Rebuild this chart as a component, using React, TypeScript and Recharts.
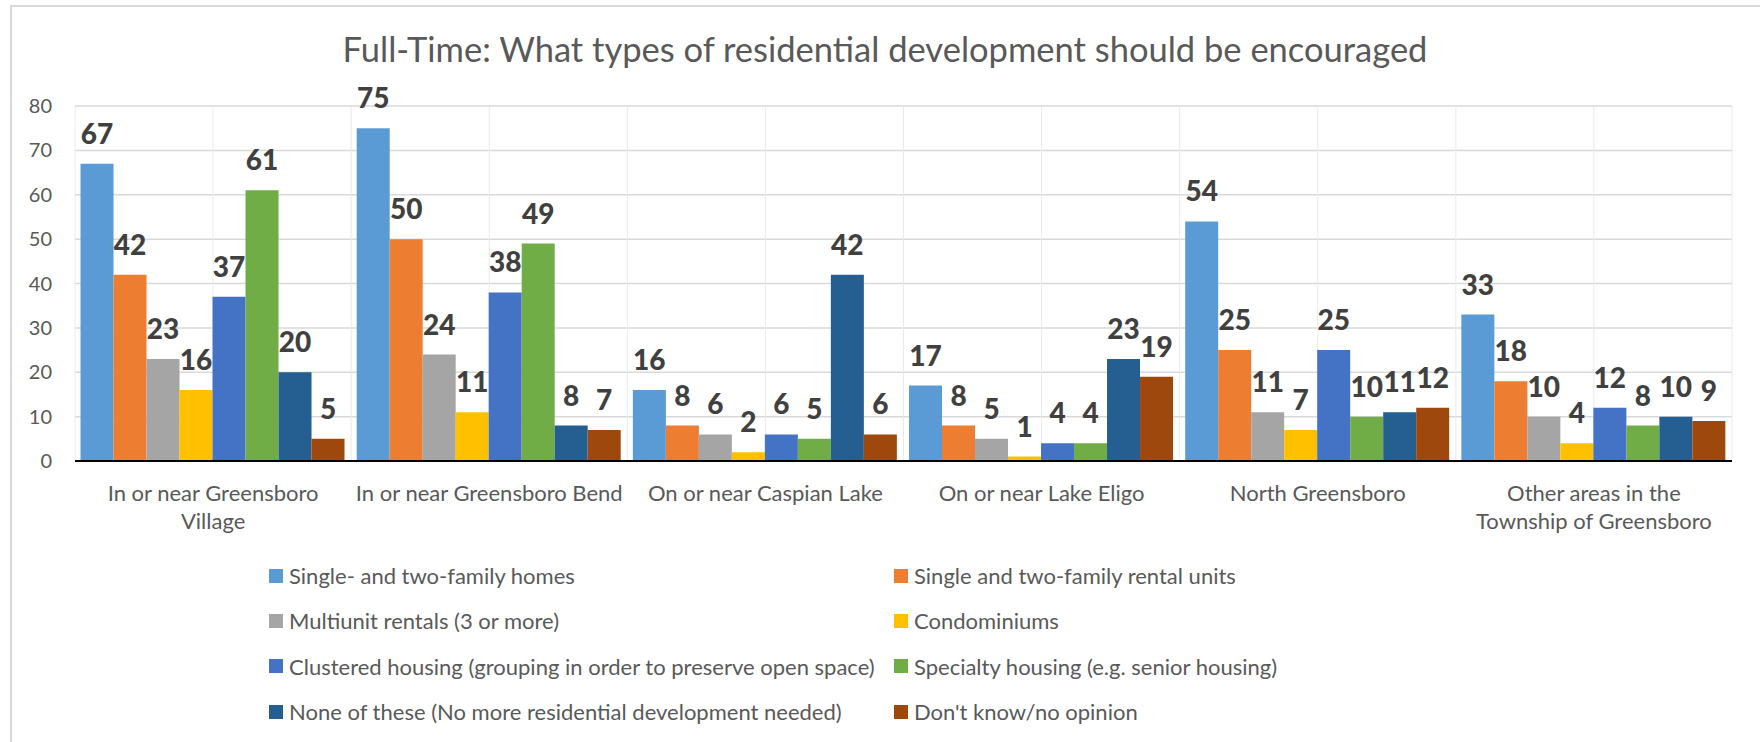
import React from 'react';
import {
  BarChart,
  Bar,
  XAxis,
  YAxis,
  CartesianGrid,
  Legend,
  LabelList,
} from 'recharts';

const categories = [
  'In or near Greensboro\nVillage',
  'In or near Greensboro Bend',
  'On or near Caspian Lake',
  'On or near Lake Eligo',
  'North Greensboro',
  'Other areas in the\nTownship of Greensboro',
];

const seriesNames = [
  'Single- and two-family homes',
  'Single and two-family rental units',
  'Multiunit rentals (3 or more)',
  'Condominiums',
  'Clustered housing (grouping in order to preserve open space)',
  'Specialty housing (e.g. senior housing)',
  'None of these (No more residential development needed)',
  "Don't know/no opinion",
];

const singleHomes = [67, 75, 16, 17, 54, 33];
const rentalUnits = [42, 50, 8, 8, 25, 18];
const multiunit = [23, 24, 6, 5, 11, 10];
const condos = [16, 11, 2, 1, 7, 4];
const clustered = [37, 38, 6, 4, 25, 12];
const specialty = [61, 49, 5, 4, 10, 8];
const noneOfThese = [20, 8, 42, 23, 11, 10];
const dontKnow = [5, 7, 6, 19, 12, 9];

const yTicks = [0, 10, 20, 30, 40, 50, 60, 70, 80];

const seriesValues = [
  singleHomes,
  rentalUnits,
  multiunit,
  condos,
  clustered,
  specialty,
  noneOfThese,
  dontKnow,
];

const colors = [
  '#5B9BD5',
  '#ED7D31',
  '#A5A5A5',
  '#FFC000',
  '#4472C4',
  '#70AD47',
  '#255E91',
  '#9E480E',
];

const data = categories.map((name, i) => {
  const row: Record<string, any> = { name };
  seriesValues.forEach((vals, s) => {
    row['s' + s] = vals[i];
  });
  return row;
});

const FONT = 'Lato, "Open Sans", sans-serif';

const CategoryTick = (props: any) => {
  const { x, y, payload } = props;
  const lines = String(payload.value).split('\n');
  return (
    <g>
      {lines.map((line: string, i: number) => (
        <text
          key={i}
          x={x}
          y={y + 39.5 + i * 28.5}
          textAnchor='middle'
          fill='#595959'
          fontSize={22}
          fontFamily={FONT}
        >
          {line}
        </text>
      ))}
    </g>
  );
};

// legend drawn in series order, two columns like the original
const renderLegend = () => (
  <div
    style={{
      display: 'grid',
      gridTemplateColumns: '625px auto',
      paddingLeft: 269,
      fontFamily: FONT,
      fontSize: 22,
      color: '#595959',
    }}
  >
    {seriesNames.map((name, i) => (
      <div
        key={name}
        style={{ display: 'flex', alignItems: 'center', height: 45.3, whiteSpace: 'nowrap' }}
      >
        <span
          style={{
            display: 'inline-block',
            width: 14,
            height: 14,
            background: colors[i],
            marginRight: 6,
          }}
        />
        {name}
      </div>
    ))}
  </div>
);

const verticalLines = ({ offset }: any) => {
  const n = categories.length * 2;
  const step = offset.width / n;
  const pts: number[] = [];
  for (let i = 0; i <= n; i++) pts.push(offset.left + step * i);
  return pts;
};

const App = () => {
  return (
    <div
      style={{
        position: 'absolute',
        left: 0,
        top: 0,
        width: 1760,
        height: 742,
        overflow: 'hidden',
        background: '#fff',
        fontFamily: FONT,
      }}
    >
      <div
        style={{
          position: 'absolute',
          left: 10,
          top: 5,
          width: 1800,
          height: 800,
          border: '2px solid #D9D9D9',
        }}
      />
      <div
        style={{
          position: 'absolute',
          top: 29,
          left: 10,
          width: 1750,
          textAlign: 'center',
          fontSize: 34.5,
          lineHeight: '40px',
          color: '#595959',
        }}
      >
        Full-Time: What types of residential development should be encouraged
      </div>
      <BarChart
        width={1760}
        height={742}
        data={data}
        margin={{ top: 106, right: 28, left: 15, bottom: 201 }}
        barGap={0}
        barCategoryGap='2%'
      >
        <CartesianGrid
          vertical={false}
          stroke='#D9D9D9'
          strokeWidth={1.5}
        />
        <CartesianGrid
          horizontal={false}
          stroke='#EAEAEA'
          strokeWidth={1}
          verticalCoordinatesGenerator={verticalLines}
        />
        <XAxis
          dataKey='name'
          height={80}
          tickLine={false}
          tickSize={0}
          tickMargin={0}
          interval={0}
          axisLine={{ stroke: '#000', strokeWidth: 2 }}
          tick={<CategoryTick />}
        />
        <YAxis
          width={60}
          domain={[0, 80]}
          ticks={yTicks}
          axisLine={false}
          tickLine={false}
          tickSize={0}
          tickMargin={23}
          tick={{ fill: '#595959', fontSize: 20, fontFamily: FONT }}
        />
        <Legend
          layout='vertical'
          align='center'
          verticalAlign='middle'
          content={renderLegend}
          wrapperStyle={{ top: 553, left: 0, width: 1760 }}
        />
        {seriesNames.map((name, s) => (
          <Bar
            key={name}
            dataKey={'s' + s}
            name={name}
            fill={colors[s]}
            isAnimationActive={false}
          >
            <LabelList
              dataKey={'s' + s}
              position='top'
              offset={20}
              fill='#404040'
              fontSize={28}
              fontWeight={900}
              fontFamily={FONT}
            />
          </Bar>
        ))}
      </BarChart>
    </div>
  );
};

export default App;
